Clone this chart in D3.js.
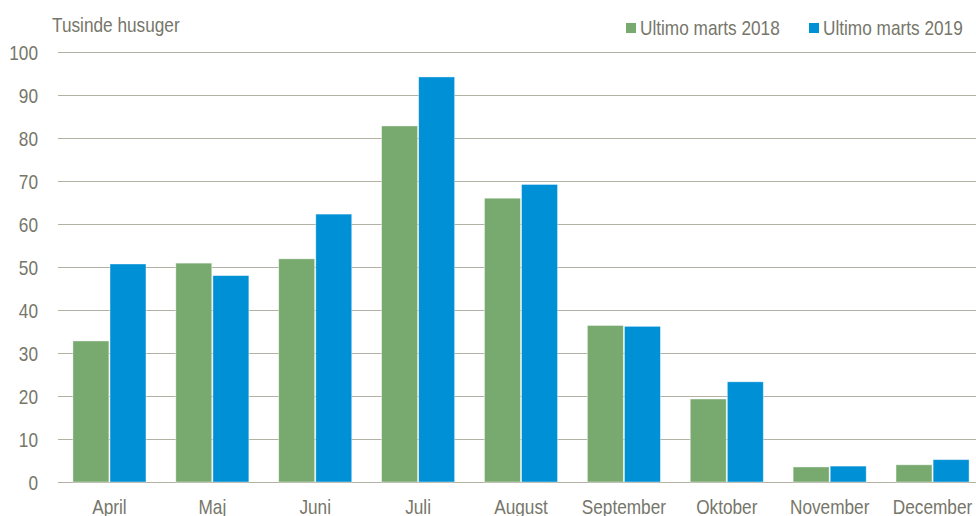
<!DOCTYPE html>
<html>
<head>
<meta charset="utf-8">
<script src="https://cdn.jsdelivr.net/npm/d3@7"></script>
<style>
  body { margin: 0; background: #fff; }
  svg text { font-family: "Liberation Sans", Arial, sans-serif; fill: #76766a; }
</style>
</head>
<body>
<svg id="chart" width="976" height="516"></svg>
<script>
const months = ['April', 'Maj', 'Juni', 'Juli', 'August', 'September', 'Oktober', 'November', 'December'];
const seriesNames = ['Ultimo marts 2018', 'Ultimo marts 2019'];
const values2018 = [32.8, 50.9, 51.9, 82.8, 66.0, 36.4, 19.3, 3.5, 4.0];
const values2019 = [50.7, 48.0, 62.3, 94.2, 69.2, 36.2, 23.3, 3.7, 5.2];
const yTicks = [0, 10, 20, 30, 40, 50, 60, 70, 80, 90, 100];
const colors = ['#78aa6f', '#0090d6'];

const svg = d3.select('#chart');
const plotLeft = 58;
const plotRight = 984;
const plotTop = 52;
const plotBottom = 482;
const narrow = 0.82; // the source font is a condensed face

// squeeze text horizontally to mimic the narrow font
function condense(sel) {
  sel.each(function () {
    const w = this.getComputedTextLength();
    d3.select(this)
      .attr('textLength', w * narrow)
      .attr('lengthAdjust', 'spacingAndGlyphs');
  });
}

const x = d3.scaleBand()
  .domain(months)
  .range([plotLeft, plotRight])
  .paddingInner(0.29)
  .paddingOuter(0.145);

const x1 = d3.scaleBand()
  .domain(seriesNames)
  .range([0, x.bandwidth()])
  .paddingInner(0.03);

const y = d3.scaleLinear()
  .domain([0, 100])
  .range([plotBottom, plotTop]);

// gridlines
svg.append('g')
  .selectAll('line')
  .data(yTicks)
  .join('line')
  .attr('x1', plotLeft)
  .attr('x2', 976)
  .attr('y1', (d) => Math.round(y(d)) + 0.5)
  .attr('y2', (d) => Math.round(y(d)) + 0.5)
  .attr('stroke', '#b3b1a3')
  .attr('stroke-width', 1.2);

// y tick labels
svg.append('g')
  .selectAll('text')
  .data(yTicks)
  .join('text')
  .attr('x', 38)
  .attr('y', (d) => y(d) + 7.5)
  .attr('text-anchor', 'end')
  .attr('font-size', 21)
  .text((d) => d)
  .call(condense);

// bars
const rows = months.map((m, i) => ({ month: m, vals: [values2018[i], values2019[i]] }));
const groups = svg.append('g')
  .selectAll('g')
  .data(rows)
  .join('g')
  .attr('transform', (d) => `translate(${x(d.month)},0)`);

groups.selectAll('rect')
  .data((d) => d.vals.map((v, k) => ({ key: seriesNames[k], v, k })))
  .join('rect')
  .attr('x', (d) => x1(d.key))
  .attr('width', x1.bandwidth())
  .attr('y', (d) => y(d.v))
  .attr('height', (d) => y(0) - y(d.v))
  .attr('fill', (d) => colors[d.k])
  .attr('stroke', '#ffffff')
  .attr('stroke-opacity', 0.5)
  .attr('stroke-width', 0.8);

// x labels
svg.append('g')
  .selectAll('text')
  .data(months)
  .join('text')
  .attr('x', (d) => x(d) + x.bandwidth() / 2)
  .attr('y', 514)
  .attr('text-anchor', 'middle')
  .attr('font-size', 21)
  .text((d) => d)
  .call(condense);

// unit label
svg.append('text')
  .attr('x', 52)
  .attr('y', 32)
  .attr('font-size', 21)
  .text('Tusinde husuger')
  .call(condense);

// legend
const legendX = [626, 809];
const legend = svg.append('g')
  .selectAll('g')
  .data(seriesNames)
  .join('g')
  .attr('transform', (d, i) => `translate(${legendX[i]},0)`);

legend.append('rect')
  .attr('x', 0)
  .attr('y', 23)
  .attr('width', 10)
  .attr('height', 10)
  .attr('fill', (d, i) => colors[i]);

legend.append('text')
  .attr('x', 14)
  .attr('y', 35)
  .attr('font-size', 21)
  .text((d) => d)
  .call(condense);
</script>
</body>
</html>
